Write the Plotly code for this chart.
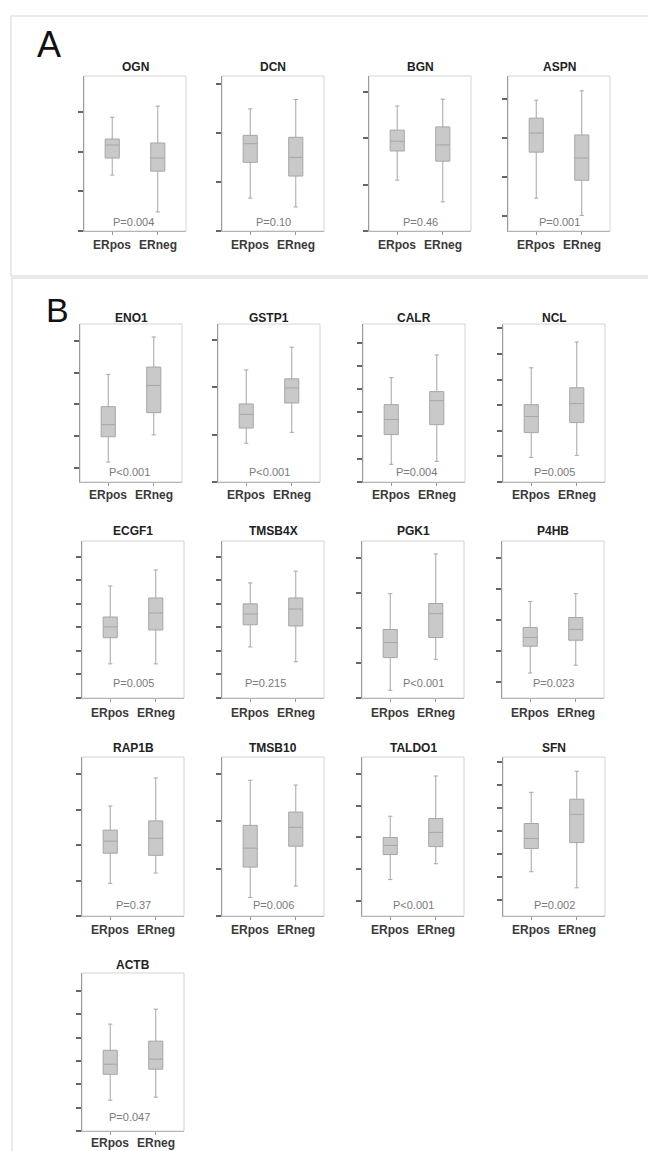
import plotly.graph_objects as go

# the page body has an 8px default margin: shift everything by it
OFF = 8
W, H = 656 - OFF, 1151 - OFF


def xp(px):
    return (px - OFF) / W


def yp(py):
    return 1 - (py - OFF) / H


genes = ["OGN", "DCN", "BGN", "ASPN",
         "ENO1", "GSTP1", "CALR", "NCL",
         "ECGF1", "TMSB4X", "PGK1", "P4HB",
         "RAP1B", "TMSB10", "TALDO1", "SFN",
         "ACTB"]
p_labels = ["P=0.004", "P=0.10", "P=0.46", "P=0.001",
            "P<0.001", "P<0.001", "P=0.004", "P=0.005",
            "P=0.005", "P=0.215", "P<0.001", "P=0.023",
            "P=0.37", "P=0.006", "P<0.001", "P=0.002",
            "P=0.047"]
groups = ["ERpos", "ERneg"]

# box statistics (arbitrary expression units; y tick spacing = 1)
erpos_low = [1.41, 0.67, 1.10, 0.46, 0.18, 0.82, 0.76, 0.96, 1.45, 2.17, 0.22, 0.30, 0.92, 0.39, 0.67, 1.23, 1.32]
erpos_q1 = [1.84, 1.40, 1.73, 1.64, 0.98, 1.14, 2.04, 1.93, 2.56, 3.11, 1.15, 1.16, 1.77, 1.03, 1.46, 2.24, 2.43]
erpos_med = [2.17, 1.78, 1.94, 2.13, 1.36, 1.43, 2.69, 2.56, 3.02, 3.57, 1.58, 1.44, 2.11, 1.43, 1.75, 2.68, 2.86]
erpos_q3 = [2.32, 1.95, 2.18, 2.51, 1.93, 1.65, 3.33, 3.02, 3.44, 4.00, 1.95, 1.76, 2.42, 1.91, 2.00, 3.33, 3.46]
erpos_high = [2.87, 2.49, 2.70, 2.97, 2.95, 2.37, 4.49, 4.46, 4.76, 4.89, 2.97, 2.59, 3.10, 2.86, 2.67, 4.69, 4.58]

erneg_low = [0.48, 0.49, 0.63, 0.02, 1.04, 1.05, 0.89, 1.04, 1.45, 1.54, 1.10, 0.55, 1.21, 0.63, 1.17, 0.53, 1.45]
erneg_q1 = [1.51, 1.12, 1.51, 0.92, 1.74, 1.67, 2.47, 2.32, 2.89, 3.06, 1.72, 1.35, 1.71, 1.47, 1.71, 2.50, 2.65]
erneg_med = [1.84, 1.50, 1.86, 1.49, 2.60, 1.99, 3.50, 3.06, 3.61, 3.78, 2.40, 1.70, 2.19, 1.87, 2.16, 3.73, 3.08]
erneg_q3 = [2.22, 1.91, 2.25, 2.08, 3.18, 2.18, 3.89, 3.68, 4.25, 4.25, 2.69, 2.08, 2.68, 2.19, 2.60, 4.39, 3.85]
erneg_high = [3.15, 2.68, 2.85, 3.21, 4.13, 2.85, 5.47, 5.47, 5.44, 5.39, 4.10, 2.84, 3.89, 2.76, 3.94, 5.61, 5.22]

# y axis: number of ticks above 0 and axis ranges
n_ticks = [3, 3, 3, 3, 4, 3, 6, 6, 6, 6, 4, 4, 4, 3, 4, 6, 6]
y_min = [0, 0, 0, -0.38, -0.45, 0, 0, 0, 0, 0, 0, -0.5, 0, 0, -0.48, -0.70, 0]
y_max = [3.91, 3.16, 3.35, 3.59, 4.54, 3.34, 6.80, 6.17, 6.67, 6.67, 4.47, 4.53, 4.48, 3.35, 4.54, 6.23, 6.77]

# layout (pixels in the 656x1151 window)
frame_left = [84, 222, 369, 508, 80, 218, 363, 503, 82, 222, 362, 502, 82, 222, 362, 503, 82]
frame_w = 102
rows_top = [76, 324, 541, 757, 973]
rows_bottom = [231, 482, 698, 916, 1131]
title_y = [67, 318, 531, 748, 965]
label_off = [14, 13, 15, 14, 12]
p_off = [9, 10, 15, 11, 14]
p_dx = [-2, 0, 0, 0, -2, 0, 2, 0, 0, -8, 10, 0, 0, 0, 0, 0, -4]

FONT = "Liberation Sans, Arial, sans-serif"
fig = go.Figure()
annotations = []
shapes = []

for i, g in enumerate(genes):
    k = i + 1
    row = i // 4
    xa = "x" if k == 1 else f"x{k}"
    ya = "y" if k == 1 else f"y{k}"
    left = frame_left[i]
    right = left + frame_w
    top, bottom = rows_top[row], rows_bottom[row]
    fig.add_trace(go.Box(
        x=[0, 1],
        q1=[erpos_q1[i], erneg_q1[i]],
        median=[erpos_med[i], erneg_med[i]],
        q3=[erpos_q3[i], erneg_q3[i]],
        lowerfence=[erpos_low[i], erneg_low[i]],
        upperfence=[erpos_high[i], erneg_high[i]],
        width=0.31, whiskerwidth=0.3,
        fillcolor="#c9c9c9",
        line=dict(color="#a6a6a6", width=1),
        boxpoints=False, showlegend=False, hoverinfo="skip",
        xaxis=xa, yaxis=ya,
    ))
    xkey = "xaxis" if k == 1 else f"xaxis{k}"
    ykey = "yaxis" if k == 1 else f"yaxis{k}"
    fig.layout[xkey] = dict(
        domain=[xp(left), xp(right)], anchor=ya, range=[-0.62, 1.62],
        tickvals=[0, 1], showticklabels=False,
        ticks="outside", ticklen=3, tickcolor="#999", tickwidth=1,
        showline=True, linecolor="#b5b5b5", linewidth=1,
        showgrid=False, zeroline=False, fixedrange=True,
    )
    fig.layout[ykey] = dict(
        domain=[yp(bottom), yp(top)], anchor=xa,
        range=[y_min[i], y_max[i]],
        tickvals=list(range(n_ticks[i] + 1)), showticklabels=False,
        ticks="outside", ticklen=5, tickwidth=2, tickcolor="#666",
        showline=True, linecolor="#9a9a9a", linewidth=1.2,
        showgrid=False, zeroline=False, fixedrange=True,
    )
    # light frame (top / right)
    shapes.append(dict(type="rect", xref="paper", yref="paper",
                       x0=xp(left), x1=xp(right), y0=yp(bottom), y1=yp(top),
                       line=dict(color="#d4d4d4", width=1), layer="below"))
    annotations.append(dict(text=f"<b>{g}</b>", xref="paper", yref="paper",
                            x=xp((left + right) / 2), y=yp(title_y[row]),
                            xanchor="center", yanchor="middle", showarrow=False,
                            font=dict(family=FONT, size=12, color="#222")))
    annotations.append(dict(text=p_labels[i], xref="paper", yref="paper",
                            x=xp((left + right) / 2 + p_dx[i]),
                            y=yp(bottom - p_off[row]),
                            xanchor="center", yanchor="middle", showarrow=False,
                            font=dict(family=FONT, size=11, color="#7a7a7a")))
    for j, grp in enumerate(groups):
        annotations.append(dict(text=f"<b>{grp}</b>", xref=xa, yref="paper",
                                x=j, y=yp(bottom + label_off[row]),
                                xanchor="center", yanchor="middle", showarrow=False,
                                font=dict(family=FONT, size=12, color="#3a3a3a")))

# panel letters
annotations.append(dict(text="A", xref="paper", yref="paper", x=xp(49), y=yp(45),
                        xanchor="center", yanchor="middle", showarrow=False,
                        font=dict(family=FONT, size=36, color="#111")))
annotations.append(dict(text="B", xref="paper", yref="paper", x=xp(57), y=yp(310),
                        xanchor="center", yanchor="middle", showarrow=False,
                        font=dict(family=FONT, size=34, color="#111")))

# panel borders
for (x0, y0, x1, y1) in [(11, 16, 670, 276), (12, 278, 670, 1170)]:
    shapes.append(dict(type="rect", xref="paper", yref="paper",
                       x0=xp(x0), x1=xp(x1), y0=yp(y1), y1=yp(y0),
                       line=dict(color="#e4e4e4", width=1.5), layer="below"))

fig.update_layout(
    width=W, height=H, margin=dict(l=0, r=0, t=0, b=0),
    paper_bgcolor="white", plot_bgcolor="white",
    annotations=annotations, shapes=shapes, showlegend=False,
    font=dict(family=FONT),
)

fig.write_html("out.html")
